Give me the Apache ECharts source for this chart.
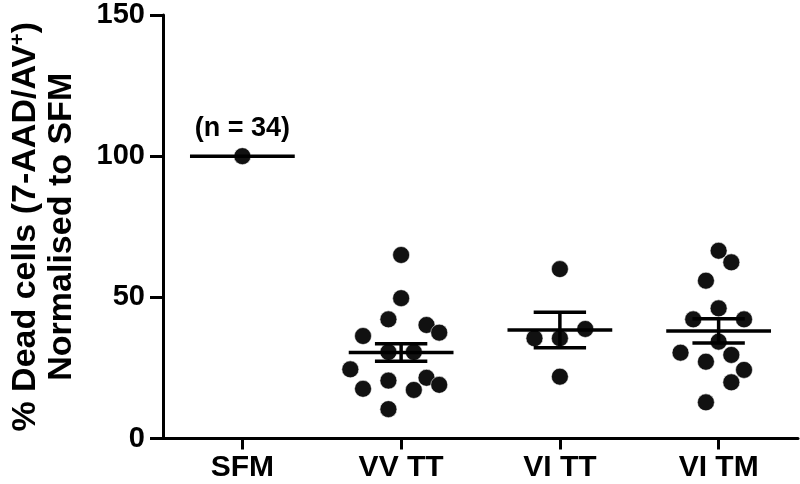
<!DOCTYPE html>
<html>
<head>
<meta charset="utf-8">
<script src="https://cdn.jsdelivr.net/npm/echarts@6/dist/echarts.min.js"></script>
<style>
  html, body { margin: 0; padding: 0; background: #fff; }
  #chart { width: 800px; height: 484px; }
</style>
</head>
<body>
<div id="chart"></div>
<script>
// ---- Data ----
const categories = ['SFM', 'VV TT', 'VI TT', 'VI TM'];
const yTicks = [0, 50, 100, 150];

const sfmValues  = [100];
const vvttValues = [65.0, 49.7, 42.2, 40.2, 37.5, 36.3, 30.6, 30.6, 24.5, 21.5, 20.5, 19.0, 17.6, 17.2, 10.4];
const vittValues = [60.0, 38.8, 35.5, 35.5, 21.9];
const vitmValues = [66.5, 62.4, 55.9, 46.1, 42.2, 42.2, 34.3, 30.4, 29.6, 27.2, 24.3, 19.9, 12.8];

// horizontal scatter (jitter) of each dot, in category units
const sfmJitter  = [0];
const vvttJitter = [0, 0, -0.08, 0.16, 0.24, -0.24, -0.08, 0.08, -0.32, 0.16, -0.08, 0.24, -0.24, 0.08, -0.08];
const vittJitter = [0, 0.16, -0.16, 0, 0];
const vitmJitter = [0, 0.08, -0.08, 0, -0.16, 0.16, 0, -0.24, 0.08, -0.08, 0.16, 0.08, -0.08];

const groupMeans = [100, 30.5, 38.4, 38.1];
const groupSems  = [0, 3.1, 6.3, 4.3];
const sfmCountLabel = '(n = 34)';

// ---- Build series data ----
const groups = [
  [sfmValues, sfmJitter],
  [vvttValues, vvttJitter],
  [vittValues, vittJitter],
  [vitmValues, vitmJitter]
];
const FONT = '"Liberation Sans", Arial, Helvetica, sans-serif';
const dotData = [];
groups.forEach(function (g, ci) {
  g[0].forEach(function (v, i) {
    const item = { value: [ci + g[1][i], v] };
    if (ci === 0) {
      item.label = {
        show: true, position: 'top', distance: 5,
        formatter: sfmCountLabel,
        fontSize: 27, fontWeight: 'bold', color: '#000', fontFamily: FONT
      };
    }
    dotData.push(item);
  });
});
const meanData = categories.map(function (c, i) { return [i, groupMeans[i], groupSems[i]]; });

const chart = echarts.init(document.getElementById('chart'), null, { renderer: 'canvas' });
chart.setOption({
  animation: false,
  backgroundColor: '#fff',
  grid: { left: 161, right: 2, top: 15, bottom: 45.5, containLabel: false },
  xAxis: {
    type: 'value', min: -0.5, max: 3.5,
    splitLine: { show: false },
    axisLine: { show: true, onZero: false, lineStyle: { color: '#000', width: 3 } },
    axisTick: { show: true, customValues: [0, 1, 2, 3], length: 11, lineStyle: { color: '#000', width: 3 } },
    axisLabel: {
      show: true, customValues: [0, 1, 2, 3], margin: 14,
      formatter: function (v) { return categories[Math.round(v)] || ''; },
      fontSize: 30, fontWeight: 'bold', color: '#000', fontFamily: FONT
    }
  },
  yAxis: {
    type: 'value', min: 0, max: 150, interval: 50,
    splitLine: { show: false },
    axisLine: { show: true, onZero: false, lineStyle: { color: '#000', width: 3 } },
    axisTick: { show: true, length: 13, lineStyle: { color: '#000', width: 3 } },
    axisLabel: {
      margin: 18, fontSize: 29, fontWeight: 'bold', color: '#000', fontFamily: FONT,
      formatter: function (v) { return yTicks.indexOf(v) >= 0 ? String(v) : ''; }
    },
    name: '{t|% Dead cells (7-AAD/AV}{s|+}{t|)}\n{t|Normalised to SFM}',
    nameLocation: 'middle',
    nameGap: 83,
    nameTextStyle: {
      fontFamily: FONT, fontWeight: 'bold', color: '#000', lineHeight: 36,
      rich: {
        t: { fontSize: 34, fontWeight: 'bold', color: '#000', fontFamily: FONT, lineHeight: 36 },
        s: { fontSize: 20, fontWeight: 'bold', color: '#000', fontFamily: FONT, lineHeight: 36, verticalAlign: 'top', padding: [0, 0, 14, 0] }
      }
    }
  },
  series: [
    {
      type: 'scatter',
      data: dotData,
      symbol: 'circle',
      symbolSize: 17,
      itemStyle: { color: '#111', borderColor: 'rgba(255,255,255,0.7)', borderWidth: 0.8, opacity: 1 },
      z: 2
    },
    {
      type: 'custom',
      data: meanData,
      encode: { x: 0, y: 1 },
      z: 3,
      renderItem: function (params, api) {
        const c = api.value(0), m = api.value(1), s = api.value(2);
        const a = api.coord([c - 0.33, m]), b = api.coord([c + 0.33, m]);
        const st = { stroke: '#000', lineWidth: 3.5 };
        const children = [{ type: 'line', shape: { x1: a[0], y1: a[1], x2: b[0], y2: b[1] }, style: st }];
        if (s > 0) {
          const t1 = api.coord([c - 0.165, m + s]), t2 = api.coord([c + 0.165, m + s]);
          const l1 = api.coord([c - 0.165, m - s]), l2 = api.coord([c + 0.165, m - s]);
          const ct = api.coord([c, m + s]), cb = api.coord([c, m - s]);
          children.push({ type: 'line', shape: { x1: t1[0], y1: t1[1], x2: t2[0], y2: t2[1] }, style: st });
          children.push({ type: 'line', shape: { x1: l1[0], y1: l1[1], x2: l2[0], y2: l2[1] }, style: st });
          children.push({ type: 'line', shape: { x1: ct[0], y1: ct[1], x2: cb[0], y2: cb[1] }, style: st });
        }
        return { type: 'group', children: children };
      }
    }
  ]
});
</script>
</body>
</html>
